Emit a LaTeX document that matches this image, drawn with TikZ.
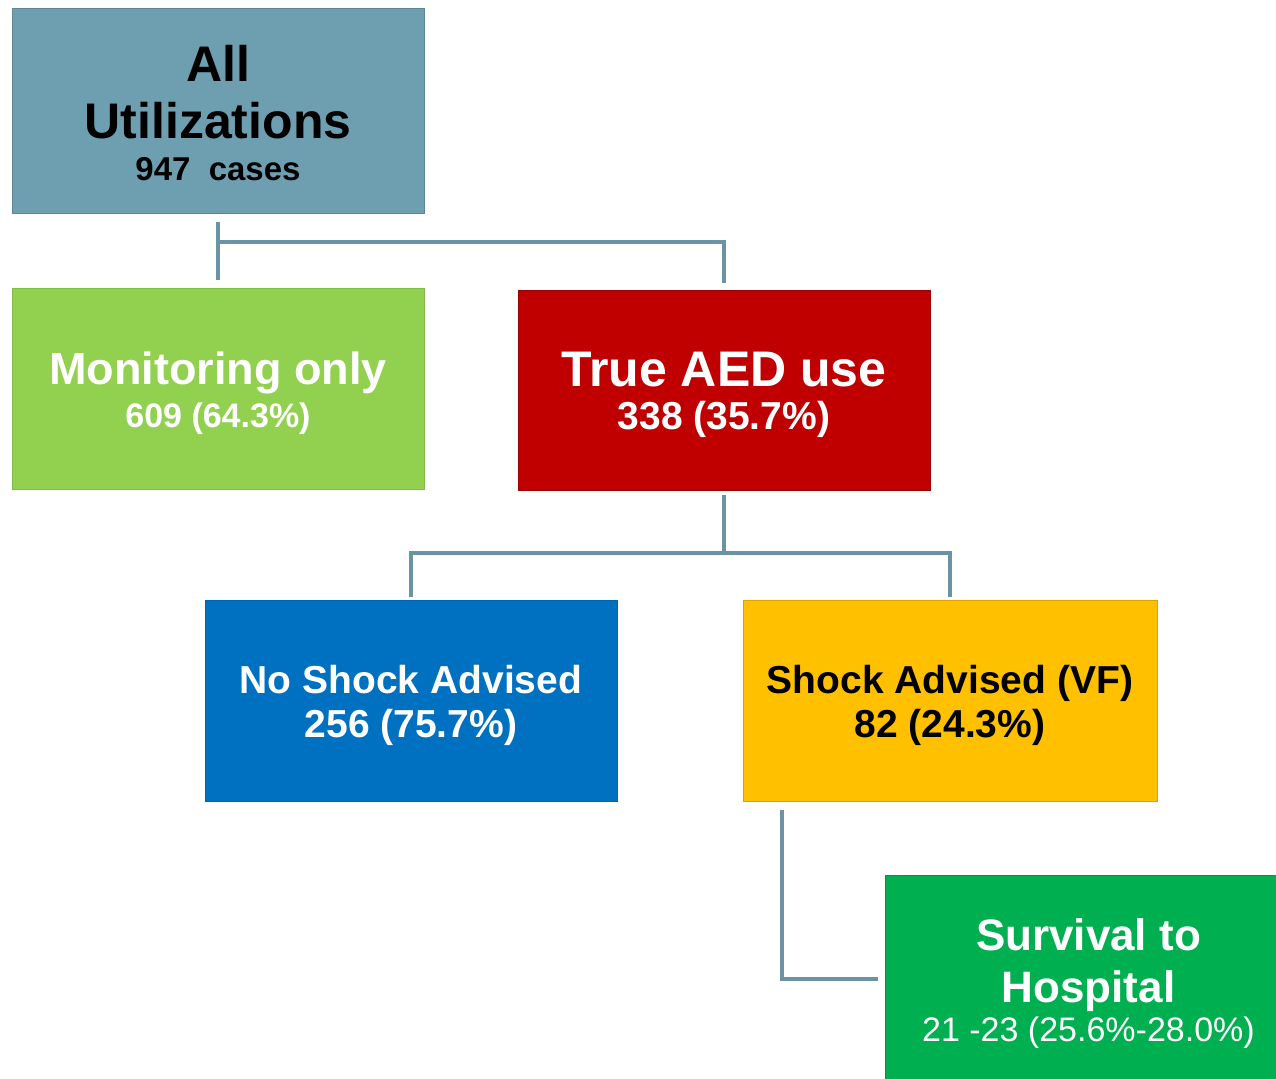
\documentclass[tikz,border=0pt]{standalone}
\usepackage{fontspec}
\setmainfont{Liberation Sans}
\usepackage{tikz}
\usetikzlibrary{positioning}
\definecolor{boxslate}{HTML}{6E9FB1}
\definecolor{boxlime}{HTML}{92D050}
\definecolor{boxred}{HTML}{C00000}
\definecolor{boxblue}{HTML}{0070C0}
\definecolor{boxamber}{HTML}{FFC000}
\definecolor{boxgreen}{HTML}{00B050}
\definecolor{linkcol}{HTML}{6A93A4}

\begin{document}
\begin{tikzpicture}[x=0.5pt, y=-0.5pt,
    box/.style={rectangle, inner sep=0pt},
    boxtext/.style={align=center, inner sep=0pt, yshift=-2.5pt},
    link/.style={draw=linkcol, line width=2pt}]
            \useasboundingbox (0,0) rectangle (1276,1078);

            % boxes
            \node[box, fill=boxslate, draw=boxslate!85!black, minimum width=206pt, minimum height=102.5pt] at (218, 110.5) (all) {};
            \node[box, fill=boxlime, draw=boxlime!90!black, minimum width=206pt, minimum height=100.5pt] at (218, 388.5) (mon) {};
            \node[box, fill=boxred, draw=boxred!80!black, minimum width=206pt, minimum height=100pt] at (724, 390) (aed) {};
            \node[box, fill=boxblue, draw=boxblue!90!black, minimum width=206pt, minimum height=100.5pt] at (411, 700.5) (nsa) {};
            \node[box, fill=boxamber, draw=boxamber!85!black, minimum width=207pt, minimum height=100.5pt] at (950, 700.5) (sa) {};
            \node[box, fill=boxgreen, draw=boxgreen!85!black, minimum width=195.5pt, minimum height=103.5pt] at (1080.5, 978.5) (surv) {};

            % texts
            \node[boxtext, yshift=1pt, text=black, font=\bfseries\fontsize{25}{28.5}\selectfont] at (all) (all-t)
                  {All\\Utilizations\\[-7.5pt]{\fontsize{16.5}{20}\selectfont 947~~cases}};
            \node[boxtext, text=white, font=\bfseries\fontsize{22.5}{21.5}\selectfont] at (mon) (mon-t)
                  {Monitoring only\\{\fontsize{17}{20}\selectfont 609 (64.3\%)}};
            \node[boxtext, text=white, font=\bfseries\fontsize{25}{21.25}\selectfont] at (aed) (aed-t)
                  {True AED use\\{\fontsize{19.5}{20}\selectfont 338 (35.7\%)}};
            \node[boxtext, text=white, font=\bfseries\fontsize{19.5}{22}\selectfont] at (nsa) (nsa-t)
                  {No Shock Advised\\256 (75.7\%)};
            \node[boxtext, text=black, font=\bfseries\fontsize{19.5}{22}\selectfont] at (sa) (sa-t)
                  {Shock Advised (VF)\\82 (24.3\%)};
            \node[boxtext, xshift=4pt, text=white, font=\bfseries\fontsize{22}{26}\selectfont] at (surv) (surv-t)
                  {Survival to\\Hospital\\[-6.5pt]{\mdseries\fontsize{17}{20}\selectfont 21 -23 (25.6\%-28.0\%)}};

            % connectors
            \coordinate (j1) at (218, 242);
            \coordinate (j2) at (724, 553);

            \draw[link, shorten <=4.5pt] (all.south) -- (j1);
            \draw[link, shorten >=4pt] (j1) -- (mon.north);
            \draw[link, shorten >=3.5pt] (j1) -| (aed.north);
            \draw[link, shorten <=2.5pt] (aed.south) -- (j2);
            \draw[link, shorten >=1.5pt] (j2) -| (nsa.north);
            \draw[link, shorten >=1.5pt] (j2) -| (sa.north);
            \draw[link, shorten >=3.5pt] ([xshift=19.5pt, yshift=-4.5pt]sa.south west) |- (surv.west);
        \end{tikzpicture}
\end{document}
